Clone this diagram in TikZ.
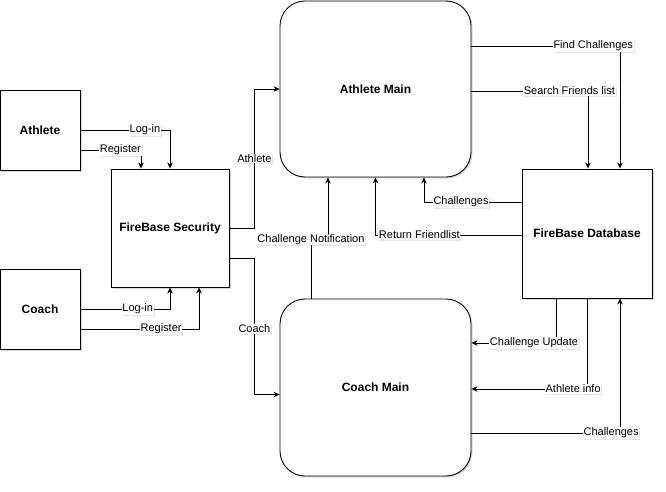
\documentclass[tikz,border=0pt]{standalone}
\usepackage{fontspec}
\setmainfont{Liberation Sans}
\usetikzlibrary{arrows.meta,shadows}
\begin{document}
\begin{tikzpicture}[x=1pt, y=-1pt,
  block/.style = {draw, line width=0.9pt, fill=white, font=\fontsize{12}{14}\selectfont\bfseries,
    drop shadow={opacity=0.3, shadow xshift=1.5pt, shadow yshift=-1.5pt}},
  mainbox/.style = {block, rounded corners=25pt, minimum width=191pt},
  lbl/.style = {fill=white, inner sep=0.8pt, font=\fontsize{11}{13}\selectfont,
    drop shadow={opacity=0.2, shadow xshift=1pt, shadow yshift=-1pt}},
  conn/.style = {line width=0.8pt, -{Stealth[length=6pt,width=5.5pt]}}]
          \useasboundingbox (0,0) rectangle (666,491);
          \node[block, minimum width=80pt, minimum height=80pt] (athlete) at (40,130) {Athlete};
          \node[block, minimum width=80pt, minimum height=80pt] (coach) at (40,309) {Coach};
          \node[block, minimum width=118pt, minimum height=118pt] (security) at (170,228) {FireBase Security};
          \node[mainbox, minimum height=176pt] (amain) at (375.5,89) {Athlete Main};
          \node[mainbox, minimum height=177pt] (cmain) at (375.5,387.5) {Coach Main};
          \node[block, minimum width=130pt, minimum height=129pt] (db) at (587,233.5) {FireBase Database};
          % login and register
          \draw[conn] (athlete.east) -| (security.north) node[lbl, pos=0.36] {Log-in};
          \draw[conn] ([yshift=-20pt]athlete.east) -| ([xshift=-29pt]security.north) node[lbl, pos=0.33] {Register};
          \draw[conn] (coach.east) -| (security.south) node[lbl, pos=0.32] {Log-in};
          \draw[conn] ([yshift=-20pt]coach.east) -| ([xshift=29pt]security.south) node[lbl, pos=0.34] {Register};
          \draw[conn] (security.east) -- ++(25,0) |- (amain.west) node[lbl, pos=0.25] {Athlete};
          \draw[conn] ([yshift=-30pt]security.east) -- ++(25,0) |- ([yshift=-7pt]cmain.west) node[lbl, pos=0.26] {Coach};
          % athlete main and database
          \draw[conn] ([yshift=43pt]amain.east) -| ([xshift=33pt]db.north) node[lbl, pos=0.41] {Find Challenges};
          \draw[conn] ([yshift=-2pt]amain.east) -| ([xshift=1pt]db.north) node[lbl, pos=0.42] {Search Friends list};
          \draw[conn] ([yshift=31.5pt]db.west) -| ([xshift=48.5pt]amain.south) node[lbl, pos=0.31] {Challenges};
          \draw[conn] ([yshift=-1.5pt]db.west) -| (amain.south) node[lbl, pos=0.35] {Return Friendlist};
          \draw[conn] ([xshift=-64.5pt]cmain.north) -- ++(0,-59) node[lbl] {Challenge Notification} -| ([xshift=-47.5pt]amain.south);
          % coach main and database
          \draw[conn] ([xshift=-31pt]db.south) |- ([yshift=44.5pt]cmain.east) node[lbl, pos=0.63] {Challenge Update};
          \draw[conn] (db.south) |- ([yshift=-1.5pt]cmain.east) node[lbl, pos=0.56] {Athlete info};
          \draw[conn] ([yshift=-45.5pt]cmain.east) -| ([xshift=33pt]db.south) node[lbl, pos=0.47] {Challenges};
        \end{tikzpicture}
\end{document}
